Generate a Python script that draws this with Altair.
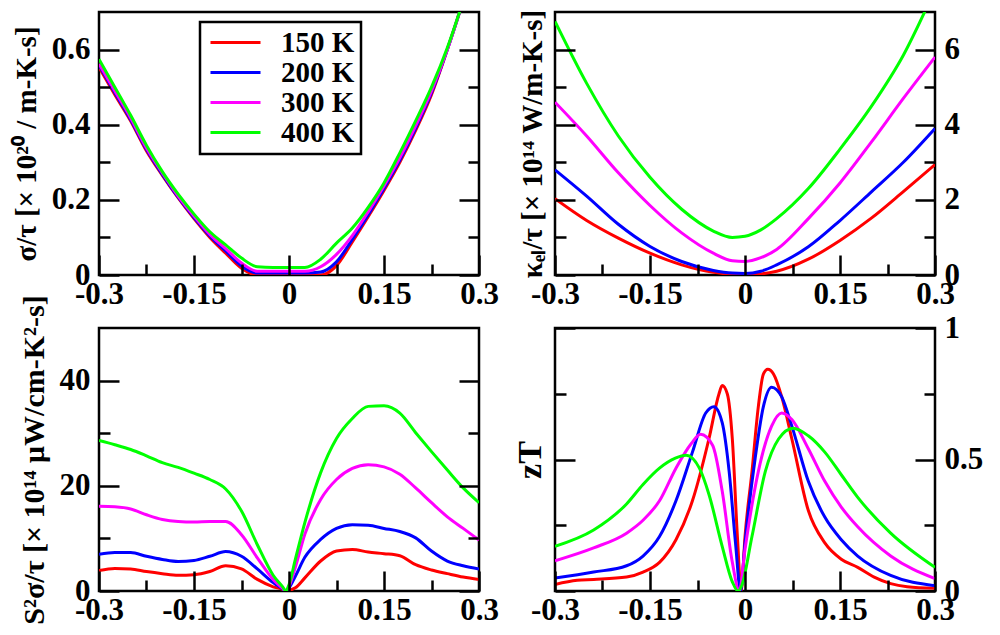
import altair as alt
import pandas as pd

TEMPS = ["150 K", "200 K", "300 K", "400 K"]
COLORS = ["#ff0000", "#0000ff", "#ff00ff", "#00ff00"]

# ---------------- sigma/tau (top-left) ----------------
x_sig = [-0.3, -0.275, -0.25, -0.225, -0.2, -0.175, -0.15, -0.125, -0.1, -0.075, -0.05, -0.025,
         0.0, 0.025, 0.05, 0.075, 0.1, 0.125, 0.15, 0.175, 0.2, 0.225, 0.25, 0.275, 0.3]
sig_150 = [0.553, 0.48, 0.41, 0.33, 0.265, 0.205, 0.150, 0.100, 0.058, 0.018, 0.0, 0.0,
           0.0, 0.0, 0.0, 0.025, 0.088, 0.155, 0.225, 0.30, 0.385, 0.48, 0.60, 0.73, 0.87]
sig_200 = [0.558, 0.485, 0.413, 0.334, 0.268, 0.207, 0.153, 0.104, 0.064, 0.024, 0.005, 0.005,
           0.005, 0.005, 0.008, 0.035, 0.095, 0.16, 0.23, 0.305, 0.39, 0.485, 0.60, 0.73, 0.87]
sig_300 = [0.562, 0.49, 0.418, 0.338, 0.272, 0.21, 0.157, 0.108, 0.07, 0.032, 0.01, 0.01,
           0.01, 0.01, 0.022, 0.055, 0.105, 0.168, 0.237, 0.312, 0.397, 0.49, 0.60, 0.73, 0.87]
sig_400 = [0.574, 0.50, 0.425, 0.345, 0.275, 0.215, 0.162, 0.115, 0.080, 0.045, 0.022, 0.02,
           0.02, 0.02, 0.042, 0.085, 0.125, 0.18, 0.245, 0.325, 0.41, 0.50, 0.605, 0.73, 0.87]

# ---------------- kappa_el/tau (top-right) ----------------
x_kap = [-0.3, -0.25, -0.2, -0.15, -0.1, -0.05, -0.02, 0.0, 0.025, 0.05, 0.1, 0.15, 0.2, 0.25, 0.3]
kap_150 = [2.03, 1.45, 0.98, 0.58, 0.27, 0.07, 0.02, 0.01, 0.03, 0.10, 0.42, 0.92, 1.52, 2.22, 2.94]
kap_200 = [2.8, 2.1, 1.35, 0.76, 0.36, 0.12, 0.05, 0.04, 0.10, 0.27, 0.75, 1.45, 2.22, 3.0, 3.9]
kap_300 = [4.6, 3.7, 2.72, 1.85, 1.12, 0.58, 0.38, 0.36, 0.46, 0.68, 1.5, 2.45, 3.55, 4.7, 5.8]
kap_400 = [6.75, 5.1, 3.7, 2.6, 1.75, 1.17, 1.0, 1.03, 1.2, 1.5, 2.3, 3.35, 4.5, 5.85, 7.6]

# ---------------- S^2 sigma/tau (bottom-left) ----------------
x_pf = [-0.3, -0.275, -0.25, -0.225, -0.2, -0.175, -0.15, -0.125, -0.1, -0.075, -0.05, -0.025,
        -0.01, -0.005, 0.0, 0.01, 0.025, 0.05, 0.075, 0.1, 0.125, 0.15, 0.175, 0.2, 0.225, 0.25,
        0.275, 0.3]
pf_150 = [3.9, 4.3, 4.2, 3.7, 3.3, 3.0, 3.1, 3.7, 4.8, 4.2, 2.2, 0.8, 0.3, 0.0, 0.1, 0.6, 2.5,
          5.7, 7.6, 7.9, 7.4, 7.1, 6.7, 5.0, 4.0, 3.3, 2.65, 2.2]
pf_200 = [7.0, 7.3, 7.3, 6.6, 6.0, 5.6, 5.8, 6.6, 7.5, 6.6, 4.2, 1.6, 0.4, 0.0, 0.6, 2.8, 6.4,
          9.8, 11.9, 12.6, 12.5, 11.9, 11.3, 10.1, 7.6, 5.7, 4.8, 4.2]
pf_300 = [16.1, 16.0, 15.6, 14.5, 13.6, 13.2, 13.1, 13.2, 13.2, 10.7, 6.3, 2.2, 0.5, 0.0, 0.9,
          4.5, 10.8, 17.4, 21.2, 23.3, 24.0, 23.6, 22.2, 19.6, 16.8, 14.1, 11.9, 9.7]
pf_400 = [28.6, 27.8, 26.9, 25.7, 24.4, 23.5, 22.4, 21.2, 19.4, 15.2, 8.8, 3.0, 0.8, 0.0, 1.2,
          6.0, 13.0, 22.5, 29.0, 32.8, 35.1, 35.2, 33.8, 30.1, 26.5, 23.0, 19.6, 16.8]

# ---------------- zT (bottom-right) ----------------
zt_x_150 = [-0.3, -0.265, -0.239, -0.187, -0.161, -0.135, -0.109, -0.083, -0.057, -0.041, -0.036,
            -0.028, -0.02, -0.012, -0.006, 0.0, 0.011, 0.021, 0.029, 0.036, 0.045, 0.058, 0.074,
            0.1, 0.126, 0.152, 0.178, 0.204, 0.23, 0.256, 0.3]
zt_150 = [0.025, 0.041, 0.044, 0.053, 0.072, 0.109, 0.195, 0.343, 0.578, 0.75, 0.781, 0.75,
          0.578, 0.207, 0.0, 0.207, 0.454, 0.70, 0.825, 0.843, 0.825, 0.738, 0.578, 0.306,
          0.183, 0.121, 0.09, 0.053, 0.028, 0.016, 0.01]
zt_x_200 = [-0.3, -0.239, -0.187, -0.161, -0.135, -0.109, -0.083, -0.062, -0.049, -0.036, -0.025,
            -0.015, -0.007, 0.0, 0.016, 0.029, 0.042, 0.058, 0.074, 0.1, 0.126, 0.152, 0.178,
            0.23, 0.3]
zt_200 = [0.049, 0.072, 0.096, 0.133, 0.207, 0.343, 0.528, 0.677, 0.701, 0.64, 0.454, 0.183,
          0.0, 0.183, 0.504, 0.701, 0.775, 0.738, 0.627, 0.417, 0.281, 0.195, 0.133, 0.059, 0.02]
zt_x_300 = [-0.3, -0.239, -0.187, -0.161, -0.135, -0.109, -0.085, -0.07, -0.051, -0.036, -0.02,
            -0.009, 0.0, 0.021, 0.042, 0.058, 0.074, 0.1, 0.126, 0.152, 0.178, 0.23, 0.3]
zt_300 = [0.115, 0.164, 0.22, 0.269, 0.343, 0.467, 0.56, 0.596, 0.553, 0.38, 0.109, 0.0, 0.158,
          0.454, 0.627, 0.677, 0.652, 0.541, 0.417, 0.319, 0.244, 0.133, 0.047]
zt_x_400 = [-0.3, -0.239, -0.187, -0.161, -0.135, -0.11, -0.093, -0.072, -0.057, -0.036, -0.02,
            -0.011, -0.005, 0.011, 0.032, 0.053, 0.076, 0.1, 0.126, 0.152, 0.178, 0.23, 0.3]
zt_400 = [0.17, 0.232, 0.331, 0.405, 0.467, 0.505, 0.516, 0.467, 0.368, 0.17, 0.035, 0.0, 0.022,
          0.207, 0.454, 0.578, 0.619, 0.59, 0.528, 0.442, 0.356, 0.22, 0.09]

# ---------------- axis tick values ----------------
X_MAJOR = [-0.3, -0.15, 0, 0.15, 0.3]
X_MINOR = [-0.225, -0.075, 0.075, 0.225]


def long_df(xs_list, ys_list):
    rows = []
    for t, xs, ys in zip(TEMPS, xs_list, ys_list):
        for xv, yv in zip(xs, ys):
            rows.append({"x": xv, "y": yv, "T": t})
    return pd.DataFrame(rows)


df_sig = long_df([x_sig] * 4, [sig_150, sig_200, sig_300, sig_400])
df_kap = long_df([x_kap] * 4, [kap_150, kap_200, kap_300, kap_400])
df_pf = long_df([x_pf] * 4, [pf_150, pf_200, pf_300, pf_400])
df_zt = long_df([zt_x_150, zt_x_200, zt_x_300, zt_x_400], [zt_150, zt_200, zt_300, zt_400])

W, H = 380, 263
MAJ, MIN = 20, 11
FONT = "Liberation Serif"
LBL = "datum.value < 0 ? '-' + format(-datum.value, '~g') : format(datum.value, '~g')"

LEGEND = alt.Legend(title=None, orient="none", legendX=101, legendY=10,
                    symbolType="M-3,0H3", symbolSize=278, symbolStrokeWidth=3,
                    symbolOffset=15, labelOffset=31,
                    labelFont=FONT, labelFontSize=29, labelFontWeight="bold", labelColor="black",
                    strokeColor="black", fillColor="white", padding=6, rowPadding=0)


def tick_axis(orient, offset, values, size):
    return alt.Axis(orient=orient, offset=offset, values=values, labels=False, domain=False,
                    grid=False, title=None, ticks=True, tickColor="black", tickWidth=2.5,
                    tickSize=size, zindex=1)


def panel(df, ydom, y_major, y_minor, title, side, title_size):
    xs = alt.Scale(domain=[-0.3, 0.3], nice=False, zero=False)
    ys = alt.Scale(domain=ydom, nice=False, zero=False)
    x_lab = alt.Axis(orient="bottom", values=X_MAJOR, ticks=False, domain=False, grid=False,
                     labelExpr=LBL, labelFlush=False, labelOverlap=False, labelPadding=4,
                     title=None)
    y_lab = alt.Axis(orient=side, values=y_major, ticks=False, domain=False, grid=False,
                     labelExpr=LBL, labelFlush=False, labelOverlap=False, labelPadding=9,
                     title=title if side == "left" else None, titlePadding=10,
                     titleFontSize=title_size)
    lines = alt.Chart(df).mark_line(strokeWidth=3, clip=True, interpolate="monotone").encode(
        x=alt.X("x:Q", scale=xs, axis=x_lab),
        y=alt.Y("y:Q", scale=ys, axis=y_lab),
        color=alt.Color("T:N", scale=alt.Scale(domain=TEMPS, range=COLORS), legend=LEGEND),
    )

    def ghost(xaxis, yaxis):
        return alt.Chart(df).mark_line(opacity=0, clip=True).encode(
            x=alt.X("x:Q", scale=xs, axis=xaxis),
            y=alt.Y("y:Q", scale=ys, axis=yaxis),
            detail="T:N",
        )

    layers = [
        lines,
        ghost(tick_axis("top", -H, X_MAJOR, MAJ), tick_axis("right", -W, y_major, MAJ)),
        ghost(tick_axis("top", -H, X_MINOR, MIN), tick_axis("right", -W, y_minor, MIN)),
        ghost(None, tick_axis("left", -W, y_major, MAJ)),
        ghost(None, tick_axis("left", -W, y_minor, MIN)),
    ]
    if side == "right":
        t_axis = alt.Axis(orient="left", labels=False, ticks=False, domain=False, grid=False,
                          title=title, titlePadding=8, titleFontSize=title_size)
        layers.append(ghost(None, t_axis))
    return alt.layer(*layers).resolve_axis(x="independent", y="independent").properties(
        width=W, height=H)


p1 = panel(df_sig, [0, 0.7], [0, 0.2, 0.4, 0.6], [0.1, 0.3, 0.5],
           "σ/τ [× 10²⁰ / m-K-s]", "left", 29)
p2 = panel(df_kap, [0, 7], [0, 2, 4, 6], [1, 3, 5],
           "κₑₗ/τ [× 10¹⁴ W/m-K-s]", "right", 29)
p3 = panel(df_pf, [0, 50], [0, 20, 40], [10, 30],
           "S²σ/τ [× 10¹⁴ μW/cm-K²-s]", "left", 30)
p4 = panel(df_zt, [0, 1], [0, 0.5, 1], [0.25, 0.75],
           "zT", "right", 34)

chart = alt.concat(p1, p2, p3, p4, columns=2).properties(
    spacing={"row": 53, "column": 76},
    bounds="flush",
    padding={"left": 2, "top": 0, "right": 0, "bottom": 0},
    background="white",
).configure_view(
    stroke="black", strokeWidth=2.5
).configure_axis(
    labelFont=FONT, labelFontSize=31, labelFontWeight="bold", labelColor="black",
    titleFont=FONT, titleFontWeight="bold", titleColor="black"
).configure_legend(
    strokeWidth=2.5
)

chart.save("out.html", embed_options={"renderer": "svg", "actions": False})
